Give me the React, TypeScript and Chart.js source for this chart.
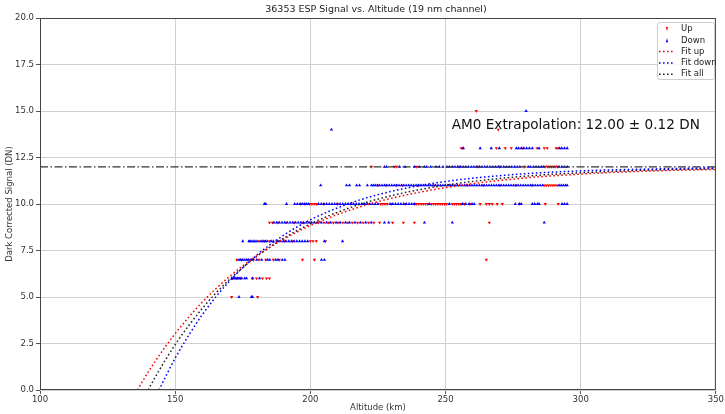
import React, { useEffect, useRef } from "react";
import { Chart, registerables } from "chart.js";

Chart.register(...registerables);

// ---------- text ----------
const TITLE = "36353 ESP Signal vs. Altitude (19 nm channel)";
const X_LABEL = "Altitude (km)";
const Y_LABEL = "Dark Corrected Signal (DN)";
const ANNOTATION = "AM0 Extrapolation: 12.00 \u00b1 0.12 DN";
const LEGEND_LABELS = ["Up", "Down", "Fit up", "Fit down", "Fit all"];

// ---------- axes ----------
const X_TICKS = [100, 150, 200, 250, 300, 350];
const Y_TICKS = [0, 2.5, 5, 7.5, 10, 12.5, 15, 17.5, 20];
const AM0_LEVEL = 12.0;
const ANNOT_AT = [252.3, 14.2];

// ---------- measured points: altitude (km) per DN level ----------
// Up pass (red)
const upAt5 = [170.9, 180.5];
const upAt6 = [171.2, 172.8, 174.2, 178.5, 180.1, 182.3, 183.8, 184.9];
const upAt7 = [172.8, 174.5, 176.8, 179.0, 181.0, 183.5, 186.3, 188.5, 197.1, 201.5, 265.1];
const upAt8 = [177.5, 181.1, 183.0, 184.9, 187.5, 190.5, 193.5, 200.0, 201.0, 202.2, 205.6];
const upAt9 = [184.9, 186.0, 188.0, 191.0, 194.0, 197.0, 200.0, 203.0, 205.0, 206.8, 208.5, 210.2, 212.0, 213.8, 215.5, 217.5, 219.5, 221.5, 223.5, 225.6, 230.4, 234.4, 238.5, 266.2];
const upAt10 = [196.5, 198.0, 199.8, 200.6, 201.4, 202.2, 205.0, 210.0, 215.0, 220.0, 226.0, 226.8, 227.6, 228.4, 230.0, 235.0, 238.6, 239.4, 240.2, 241.0, 241.8, 242.6, 243.4, 244.8, 245.6, 246.4, 247.2, 248.0, 248.8, 249.6, 250.4, 252.5, 253.3, 254.1, 254.9, 255.7, 257.0, 259.0, 262.8, 265.1, 266.2, 267.3, 269.1, 271.0, 277.3, 286.9, 291.7];
const upAt11 = [225.0, 228.0, 231.8, 234.0, 240.0, 246.0, 252.0, 258.0, 264.0, 270.0, 276.0, 282.0, 286.5, 287.3, 288.1, 288.9, 289.7, 290.5, 291.3];
const upAt12 = [222.6, 231.0, 232.0, 239.2, 255.0, 262.0, 270.0, 279.1, 286.8, 287.6, 288.4, 289.2, 290.0, 290.8, 291.4];
const upAt13 = [255.8, 256.3, 268.8, 272.1, 274.3, 278.5, 283.9, 286.5, 287.6, 290.9, 291.6];
const upAt14 = [269.5];
const upAt15 = [261.4];

// Down pass (blue)
const downAt5 = [173.6, 178.2, 178.6];
const downAt6 = [171.0, 171.5, 172.0, 172.5, 173.0, 173.5, 174.0, 174.6, 175.7, 176.4, 178.7, 181.2];
const downAt7 = [173.6, 174.3, 175.0, 175.7, 176.4, 177.1, 177.8, 178.4, 180.2, 182.0, 184.2, 185.0, 187.2, 188.0, 189.6, 190.6, 204.1, 205.2];
const downAt8 = [175.0, 177.3, 178.0, 178.8, 179.5, 180.3, 181.8, 182.5, 183.3, 184.0, 185.5, 186.3, 188.0, 189.0, 190.0, 191.0, 192.0, 193.0, 194.0, 195.0, 196.0, 197.0, 198.0, 199.0, 205.2, 211.9];
const downAt9 = [186.5, 187.5, 188.5, 189.5, 190.5, 191.5, 192.5, 193.5, 194.5, 195.5, 196.5, 197.5, 198.5, 199.5, 200.5, 201.5, 202.5, 204.0, 206.0, 207.5, 209.5, 211.0, 213.0, 214.5, 216.5, 218.5, 220.5, 222.5, 227.4, 229.0, 242.2, 252.5, 286.5];
const downAt10 = [183.0, 183.5, 191.2, 194.2, 195.2, 196.2, 197.0, 197.8, 198.6, 199.3, 203.0, 204.0, 205.0, 206.0, 207.0, 208.0, 209.0, 210.0, 211.0, 212.0, 213.0, 214.0, 215.0, 216.0, 217.0, 218.0, 219.0, 220.0, 221.0, 222.0, 223.0, 224.0, 225.0, 229.5, 230.5, 231.5, 232.5, 233.5, 234.5, 235.5, 236.5, 237.5, 238.5, 244.0, 251.4, 256.3, 257.5, 258.7, 259.8, 260.6, 275.8, 277.3, 278.0, 282.1, 283.0, 284.0, 284.6, 293.1, 294.0, 295.0];
const downAt11 = [203.8, 213.4, 214.5, 217.1, 218.2, 221.1, 222.6, 223.3, 224.0, 224.8, 225.6, 226.5, 227.4, 228.3, 229.2, 230.1, 231.0, 231.9, 232.8, 233.7, 234.6, 235.5, 236.4, 237.3, 238.2, 239.1, 240.0, 240.9, 241.8, 242.7, 243.6, 244.5, 245.4, 246.3, 247.2, 248.1, 249.0, 249.9, 250.8, 251.7, 252.6, 253.5, 254.4, 255.3, 256.2, 257.1, 258.0, 258.9, 259.8, 260.7, 261.6, 262.5, 263.4, 264.3, 265.2, 266.1, 267.0, 267.9, 268.8, 269.7, 270.6, 271.5, 272.4, 273.3, 274.2, 275.1, 276.0, 276.9, 277.8, 278.7, 279.6, 280.5, 281.4, 282.3, 283.2, 284.1, 285.0, 285.9, 292.0, 292.8, 293.6, 294.4, 295.0];
const downAt12 = [227.4, 228.2, 233.0, 235.0, 238.5, 240.3, 242.2, 243.0, 244.5, 246.5, 247.7, 249.0, 250.5, 251.4, 252.5, 253.5, 254.5, 255.5, 256.5, 257.5, 258.5, 259.5, 260.5, 261.5, 262.5, 263.5, 264.5, 265.5, 266.5, 267.5, 268.5, 269.5, 270.5, 271.5, 272.5, 273.5, 274.5, 275.5, 276.5, 277.5, 280.6, 281.5, 282.5, 283.5, 284.5, 285.5, 286.2, 292.0, 293.0, 294.0, 295.0];
const downAt13 = [256.6, 262.8, 266.9, 269.9, 276.2, 277.0, 278.0, 279.0, 280.0, 281.0, 282.1, 284.6, 292.2, 293.0, 294.0, 295.0];
const downAt14 = [207.8];
const downAt15 = [279.8];

// ---------- fitted curves ----------
const fitUpAlt = [136, 140, 143, 150, 160, 170, 180, 190, 200, 215, 230, 250, 275, 300, 325, 350];
const fitUpSignal = [0, 0.96, 1.63, 3.03, 4.72, 6.09, 7.2, 8.1, 8.84, 9.69, 10.31, 10.88, 11.34, 11.61, 11.77, 11.86];
const fitDownAlt = [144, 150, 160, 170, 180, 190, 200, 215, 230, 250, 275, 300, 325, 350];
const fitDownSignal = [0, 1.71, 4.04, 5.84, 7.23, 8.31, 9.15, 10.06, 10.68, 11.21, 11.58, 11.78, 11.88, 11.94];
const fitAllAlt = [140, 143, 150, 160, 170, 180, 190, 200, 215, 230, 250, 275, 300, 325, 350];
const fitAllSignal = [0, 0.79, 2.44, 4.38, 5.93, 7.16, 8.15, 8.93, 9.82, 10.45, 11.01, 11.44, 11.68, 11.82, 11.9];

const upRows: [number, number[]][] = [
  [5, upAt5], [6, upAt6], [7, upAt7], [8, upAt8], [9, upAt9], [10, upAt10],
  [11, upAt11], [12, upAt12], [13, upAt13], [14, upAt14], [15, upAt15],
];
const downRows: [number, number[]][] = [
  [5, downAt5], [6, downAt6], [7, downAt7], [8, downAt8], [9, downAt9], [10, downAt10],
  [11, downAt11], [12, downAt12], [13, downAt13], [14, downAt14], [15, downAt15],
];

const toPoints = (rows: [number, number[]][]) =>
  rows.flatMap(([dn, alts]) => alts.map((a) => ({ x: a, y: dn })));
const toCurve = (xs: number[], ys: number[]) => xs.map((x, i) => ({ x, y: ys[i] }));

const FONT = "'DejaVu Sans', sans-serif";
const RED = "#ff0000";
const BLUE = "#0000ff";
const DOT = [1.6, 2.4];

const decorPlugin = {
  id: "decor",
  afterDraw(chart: any) {
    const { ctx, chartArea: a, scales } = chart;
    ctx.save();
    // frame
    ctx.strokeStyle = "#444";
    ctx.lineWidth = 1;
    ctx.strokeRect(a.left + 0.5, a.top + 0.5, a.right - a.left - 1, a.bottom - a.top - 1);

    // title
    ctx.fillStyle = "#222";
    ctx.textAlign = "center";
    ctx.textBaseline = "middle";
    ctx.font = `9.5px ${FONT}`;
    ctx.fillText(TITLE, (a.left + a.right) / 2 - 2, 10);

    // axis labels
    ctx.font = `8.5px ${FONT}`;
    ctx.fillStyle = "#333";
    ctx.fillText(X_LABEL, (a.left + a.right) / 2, 408);
    ctx.save();
    ctx.translate(10, (a.top + a.bottom) / 2);
    ctx.rotate(-Math.PI / 2);
    ctx.fillText(Y_LABEL, 0, 0);
    ctx.restore();

    // annotation
    ctx.font = `13.6px ${FONT}`;
    ctx.fillStyle = "#111";
    ctx.textAlign = "left";
    ctx.fillText(ANNOTATION, scales.x.getPixelForValue(ANNOT_AT[0]), scales.y.getPixelForValue(ANNOT_AT[1]));

    // legend
    const bx = 657, by = 22, bw = 57, bh = 57;
    ctx.fillStyle = "rgba(255,255,255,0.85)";
    ctx.strokeStyle = "#cccccc";
    ctx.lineWidth = 1;
    ctx.beginPath();
    (ctx as any).roundRect(bx + 0.5, by + 0.5, bw, bh, 2);
    ctx.fill();
    ctx.stroke();
    const rowY = [29, 40.3, 51.6, 62.9, 74.2];
    ctx.font = `8.5px ${FONT}`;
    ctx.textBaseline = "middle";
    ctx.textAlign = "left";
    LEGEND_LABELS.forEach((lab, i) => {
      const y = rowY[i];
      if (i === 0 || i === 1) {
        ctx.fillStyle = i === 0 ? RED : BLUE;
        ctx.beginPath();
        if (i === 0) {
          ctx.moveTo(665.8, y - 2); ctx.lineTo(668.2, y - 2); ctx.lineTo(667, y + 2);
        } else {
          ctx.moveTo(665.8, y + 2); ctx.lineTo(668.2, y + 2); ctx.lineTo(667, y - 2);
        }
        ctx.closePath();
        ctx.fill();
      } else {
        ctx.strokeStyle = i === 2 ? RED : i === 3 ? BLUE : "#222";
        ctx.lineWidth = 1.5;
        ctx.setLineDash(DOT);
        ctx.beginPath();
        ctx.moveTo(659, y);
        ctx.lineTo(674, y);
        ctx.stroke();
        ctx.setLineDash([]);
      }
      ctx.fillStyle = "#222";
      ctx.fillText(lab, 681, y);
    });
    ctx.restore();
  },
};

export default function App() {
  const ref = useRef<HTMLCanvasElement | null>(null);
  useEffect(() => {
    if (!ref.current) return;
    const fit = (label: string, xs: number[], ys: number[], color: string) => ({
      label,
      data: toCurve(xs, ys),
      showLine: true,
      borderColor: color,
      borderWidth: 1.5,
      borderDash: DOT,
      pointRadius: 0,
      cubicInterpolationMode: "monotone",
      order: 0,
    });
    const chart = new Chart(ref.current, {
      type: "scatter",
      data: {
        datasets: [
          fit("Fit up", fitUpAlt, fitUpSignal, RED),
          fit("Fit down", fitDownAlt, fitDownSignal, BLUE),
          fit("Fit all", fitAllAlt, fitAllSignal, "#222"),
          {
            label: "AM0",
            data: [{ x: X_TICKS[0], y: AM0_LEVEL }, { x: X_TICKS[X_TICKS.length - 1], y: AM0_LEVEL }],
            showLine: true,
            borderColor: "#333",
            borderWidth: 1.3,
            borderDash: [8, 2.5, 1.5, 2.5],
            pointRadius: 0,
            order: 1,
          },
          {
            label: "Down",
            data: toPoints(downRows),
            backgroundColor: BLUE,
            borderColor: BLUE,
            borderWidth: 0,
            pointStyle: "triangle",
            pointRadius: 1.9,
            order: 2,
          },
          {
            label: "Up",
            data: toPoints(upRows),
            backgroundColor: RED,
            borderColor: RED,
            borderWidth: 0,
            pointStyle: "triangle",
            rotation: 180,
            pointRadius: 1.9,
            order: 3,
          },
        ],
      },
      options: {
        animation: false,
        responsive: false,
        devicePixelRatio: 1,
        layout: { padding: { top: 18, right: 8, left: 0, bottom: 0 } },
        plugins: { legend: { display: false }, tooltip: { enabled: false } },
        events: [],
        scales: {
          x: {
            type: "linear",
            min: X_TICKS[0],
            max: X_TICKS[X_TICKS.length - 1],
            afterBuildTicks: (s: any) => { s.ticks = X_TICKS.map((v) => ({ value: v })); },
            afterFit: (s: any) => { s.height = 24; },
            grid: { color: "#d0d0d0", lineWidth: 1, tickLength: 4, tickColor: "#555" },
            border: { display: false },
            ticks: {
              color: "#333",
              font: { family: FONT, size: 8.5 },
              padding: 1,
              maxRotation: 0,
              callback: (v: any) => String(v),
            },
          },
          y: {
            type: "linear",
            min: Y_TICKS[0],
            max: Y_TICKS[Y_TICKS.length - 1],
            afterBuildTicks: (s: any) => { s.ticks = Y_TICKS.map((v) => ({ value: v })); },
            afterFit: (s: any) => { s.width = 40; },
            grid: { color: "#d0d0d0", lineWidth: 1, tickLength: 4, tickColor: "#555" },
            border: { display: false },
            ticks: {
              color: "#333",
              font: { family: FONT, size: 8.5 },
              padding: 2,
              callback: (v: any) => Number(v).toFixed(1),
            },
          },
        },
      },
      plugins: [decorPlugin],
    } as any);
    return () => chart.destroy();
  }, []);
  return (
    <div style={{ position: "absolute", left: 0, top: 0, width: 725, height: 414, background: "#fff" }}>
      <canvas ref={ref} width={725} height={414} />
    </div>
  );
}
